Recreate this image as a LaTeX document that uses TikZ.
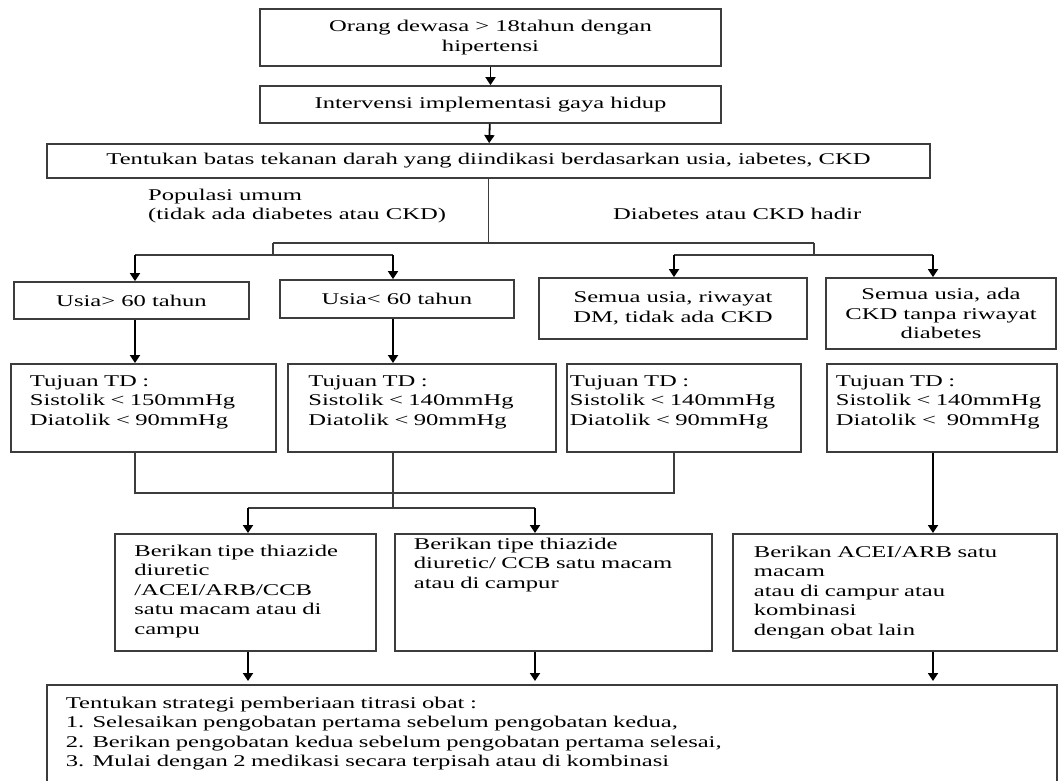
\documentclass[tikz,border=0pt]{standalone}
\usepackage{fontspec}
\setmainfont{Liberation Serif}[FakeStretch=1.5]
\usepackage{xcolor}
\usepackage{tikz}
\usetikzlibrary{arrows.meta}

\definecolor{linegray}{HTML}{3C3C3C}
\tikzset{
  every node/.style={font=\fontsize{16.4}{19.5}\selectfont},
  box/.style={rectangle, draw=linegray, line width=1.8pt, inner sep=0pt, align=center},
  tdbox/.style={rectangle, draw=linegray, line width=1.8pt, anchor=north west, align=left, inner ysep=0pt},
  lbl/.style={anchor=west, inner sep=0pt, align=left},
  conn/.style={draw=linegray, line width=1.8pt},
  arr/.style={-{Triangle[length=8pt, width=10pt]}, draw=black, line width=1.8pt}
}

\begin{document}
\begin{tikzpicture}[x=1pt, y=-1pt]
\useasboundingbox (0, 0) rectangle (1058, 780);
\clip (0, 0) rectangle (1058, 780);

\node [box, minimum width=461pt, minimum height=57pt] (adult) at (490.5, 37.5) {Orang dewasa > 18tahun dengan\\hipertensi};
\node [box, minimum width=461pt, minimum height=37pt] (life) at (490.5, 104.5) {Intervensi implementasi gaya hidup};
\node [box, minimum width=883pt, minimum height=34pt] (limit) at (488.5, 161) {Tentukan batas tekanan darah yang diindikasi berdasarkan usia, iabetes, CKD};

\node [lbl] (pop) at (148, 206) {Populasi umum\\(tidak ada diabetes atau CKD)};
\node [lbl] (dmlbl) at (613, 214) {Diabetes atau CKD hadir};

\node [box, minimum width=235pt, minimum height=37pt] (old) at (131.5, 300.5) {Usia> 60 tahun};
\node [box, minimum width=234pt, minimum height=38pt] (young) at (397, 299) {Usia< 60 tahun};
\node [box, minimum width=268pt, minimum height=61pt] (dm) at (673, 308.5) {Semua usia, riwayat\\DM, tidak ada CKD};
\node [box, minimum width=230pt, minimum height=71pt] (ckd) at (941, 313.5) {Semua usia, ada\\CKD tanpa riwayat\\diabetes};

\node [tdbox, inner xsep=19pt, text width=227pt, text height=22.5pt, text depth=65.5pt] (tdold) at (10, 363) {Tujuan TD :\\Sistolik < 150mmHg\\Diatolik < 90mmHg};
\node [tdbox, inner xsep=20.5pt, text width=227pt, text height=22.5pt, text depth=65.5pt] (tdyoung) at (287, 363) {Tujuan TD :\\Sistolik < 140mmHg\\Diatolik < 90mmHg};
\node [tdbox, inner xsep=3pt, text width=228pt, text height=22.5pt, text depth=65.5pt] (tddm) at (566, 363) {Tujuan TD :\\Sistolik < 140mmHg\\Diatolik < 90mmHg};
\node [tdbox, inner xsep=9pt, text width=212pt, text height=22.5pt, text depth=65.5pt] (tdckd) at (826, 363) {Tujuan TD :\\Sistolik < 140mmHg\\Diatolik <\ \ 90mmHg};

\node [tdbox, inner xsep=19.5pt, text width=222pt, text height=22.5pt, text depth=94.5pt] (drugA) at (114, 533) {Berikan tipe thiazide\\diuretic\\/ACEI/ARB/CCB\\satu macam atau di\\campu};
\node [tdbox, inner xsep=19pt, text width=279pt, text height=15.5pt, text depth=101.5pt] (drugB) at (394, 533) {Berikan tipe thiazide\\diuretic/ CCB satu macam\\atau di campur};
\node [tdbox, inner xsep=21pt, text width=282pt, text height=23.5pt, text depth=93.5pt] (drugC) at (732, 533) {Berikan ACEI/ARB satu\\macam\\atau di campur atau\\kombinasi\\dengan obat lain};

\node [tdbox, inner xsep=19pt, text width=972pt, text height=23.5pt, text depth=92.5pt] (titr) at (46, 684) {Tentukan strategi pemberiaan titrasi obat :\\1. Selesaikan pengobatan pertama sebelum pengobatan kedua,\\2. Berikan pengobatan kedua sebelum pengobatan pertama selesai,\\3. Mulai dengan 2 medikasi secara terpisah atau di kombinasi};

\coordinate (cA) at (135, 0);
\coordinate (cB) at (393, 0);
\coordinate (cC) at (674, 0);
\coordinate (cD) at (933, 0);
\coordinate (cE) at (248, 0);
\coordinate (cF) at (535, 0);
\coordinate (sL) at (273, 243);
\coordinate (sR) at (814, 243);
\coordinate (r1) at (0, 255);
\coordinate (r2) at (0, 493);
\coordinate (r3) at (0, 508);

\draw [arr] (adult) to (life);
\draw [arr] (life) to (limit);
\draw [conn] (limit.south) to (limit.south |- sL);
\draw [conn] (sL) to (sR);
\draw [conn] (sL) to (sL |- r1);
\draw [conn] (sR) to (sR |- r1);
\draw [conn] (cA |- r1) to (cB |- r1);
\draw [conn] (cC |- r1) to (cD |- r1);
\draw [arr] (cA |- r1) to (cA |- old.north);
\draw [arr] (cB |- r1) to (cB |- young.north);
\draw [arr] (cC |- r1) to (cC |- dm.north);
\draw [arr] (cD |- r1) to (cD |- ckd.north);
\draw [arr] (cA |- old.south) to (cA |- tdold.north);
\draw [arr] (cB |- young.south) to (cB |- tdyoung.north);
\draw [conn] (cA |- tdold.south) |- (cC |- r2) to (cC |- tddm.south);
\draw [conn] (cB |- tdyoung.south) to (cB |- r3);
\draw [conn] (cE |- r3) to (cF |- r3);
\draw [arr] (cE |- r3) to (cE |- drugA.north);
\draw [arr] (cF |- r3) to (cF |- drugB.north);
\draw [arr] (cD |- tdckd.south) to (cD |- drugC.north);
\draw [arr, shorten >=3pt] (cE |- drugA.south) to (cE |- titr.north);
\draw [arr, shorten >=3pt] (cF |- drugB.south) to (cF |- titr.north);
\draw [arr, shorten >=3pt] (cD |- drugC.south) to (cD |- titr.north);
\end{tikzpicture}
\end{document}
